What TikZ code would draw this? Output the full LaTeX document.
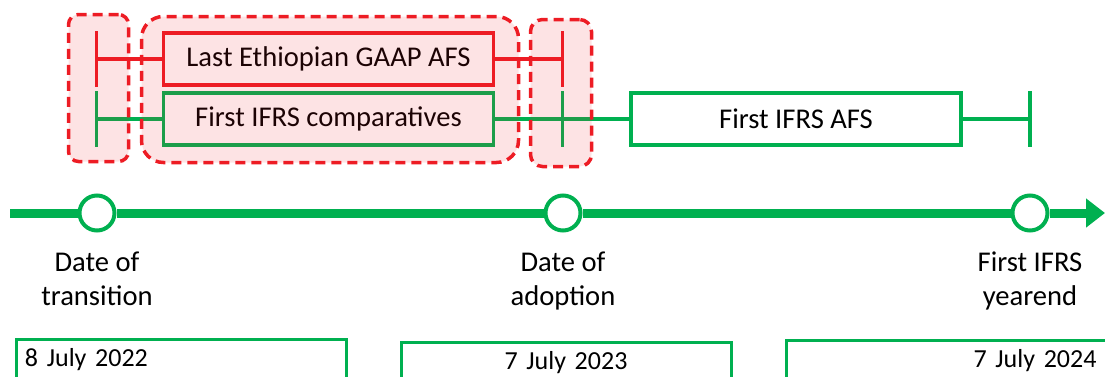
\documentclass[tikz,border=0pt]{standalone}
\usepackage{fontspec}
\setmainfont{Carlito}
\definecolor{IFRSGreen}{HTML}{00B050}
\definecolor{GAAPRed}{HTML}{ED1C24}
\usetikzlibrary{arrows.meta, positioning}

\begin{document}
\begin{tikzpicture}[x=0.5pt, y=-0.5pt,
  milestone/.style={draw=IFRSGreen, circle, fill=white, line width=2pt,
                    minimum size=17.5pt, inner sep=0pt},
  mslabel/.style={align=center, inner sep=0pt, font=\fontsize{14.3}{17}\selectfont},
  period/.style={draw, line width=1.75pt, minimum width=165pt, minimum height=26pt,
                 inner sep=0pt, font=\fontsize{14.3}{17}\selectfont},
  datebox/.style={draw=IFRSGreen, line width=1.5pt, anchor=north west, inner xsep=4.5pt,
                  inner ysep=3.5pt, text height=10pt, text depth=40pt,
                  font=\fontsize{13}{16}\selectfont},
  span/.style={line width=1.75pt},
  hilite/.style={draw=GAAPRed, line width=1.75pt, dash pattern=on 5pt off 3pt,
                 fill=GAAPRed, fill opacity=0.12, inner sep=0pt}]
  \clip (0,0) rectangle (1105,376);

  % Periods
  \node[period, draw=GAAPRed] (gaap) at (328.5,59) {Last Ethiopian GAAP AFS};
  \node[period, draw=IFRSGreen] (comp) at (328.5,119) {First IFRS comparatives};
  \node[period, draw=IFRSGreen] (afs) at (796,119) {First IFRS AFS};
  \coordinate (gaap-start) at (96.5,59);
  \coordinate (gaap-end) at (562.5,59);
  \coordinate (comp-start) at (96.5,119);
  \coordinate (afs-start) at (562.5,119);
  \coordinate (afs-end) at (1030,119);
  % GAAP span
  \draw[span, GAAPRed] (gaap-start) -- (gaap);
  \draw[span, GAAPRed] (gaap) -- (gaap-end);
  \draw[span, GAAPRed] (gaap-start |- gaap.north) -- (gaap-start |- gaap.south);
  \draw[span, GAAPRed] (gaap-end |- gaap.north) -- (gaap-end |- gaap.south);
  % IFRS span
  \draw[span, IFRSGreen] (comp-start) -- (comp);
  \draw[span, IFRSGreen] (comp) -- (afs);
  \draw[span, IFRSGreen] (afs) -- (afs-end);
  \draw[span, IFRSGreen] (comp-start |- comp.north) -- (comp-start |- comp.south);
  \draw[span, IFRSGreen] (afs-start |- comp.north) -- (afs-start |- comp.south);
  \draw[span, IFRSGreen] (afs-end |- afs.north) -- (afs-end |- afs.south);
  % Highlights
  \node[hilite, minimum width=30pt, minimum height=73.5pt, rounded corners=5pt] (hl-trans) at (98.5,88) {};
  \node[hilite, minimum width=188.5pt, minimum height=73pt, rounded corners=11pt] (hl-comp) at (330,89.5) {};
  \node[hilite, minimum width=30.5pt, minimum height=73.5pt, rounded corners=6pt] (hl-adopt) at (561,93) {};

  % Timeline
  \node[milestone] (trans) at (97,213) {};
  \node[milestone] (adopt) at (563,213) {};
  \node[milestone] (yearend) at (1030,213) {};
  \coordinate (tl-start) at (10,213);
  \coordinate (tl-end) at (1105,213);
  \draw[IFRSGreen, line width=4.5pt, -{Triangle[length=9.5pt, width=14pt]}]
    (tl-start) -- (trans) -- (adopt) -- (yearend) -- (tl-end);
  \node[mslabel, below=9.5pt of trans] (trans-lbl) {Date of\\transition};
  \node[mslabel, below=9.5pt of adopt] (adopt-lbl) {Date of\\adoption};
  \node[mslabel, below=9.5pt of yearend] (yearend-lbl) {First IFRS\\yearend};

  % Dates
  \node[datebox, text width=156pt, align=left] (trans-date) at (14.5,337.5) {8 July 2022};
  \node[datebox, text width=156pt, align=center] (adopt-date) at (399.5,340.5) {7 July 2023};
  \node[datebox, inner xsep=8.5pt, text width=146.75pt, align=right] (yearend-date) at (784.5,338.5) {7 July 2024};
\end{tikzpicture}
\end{document}
